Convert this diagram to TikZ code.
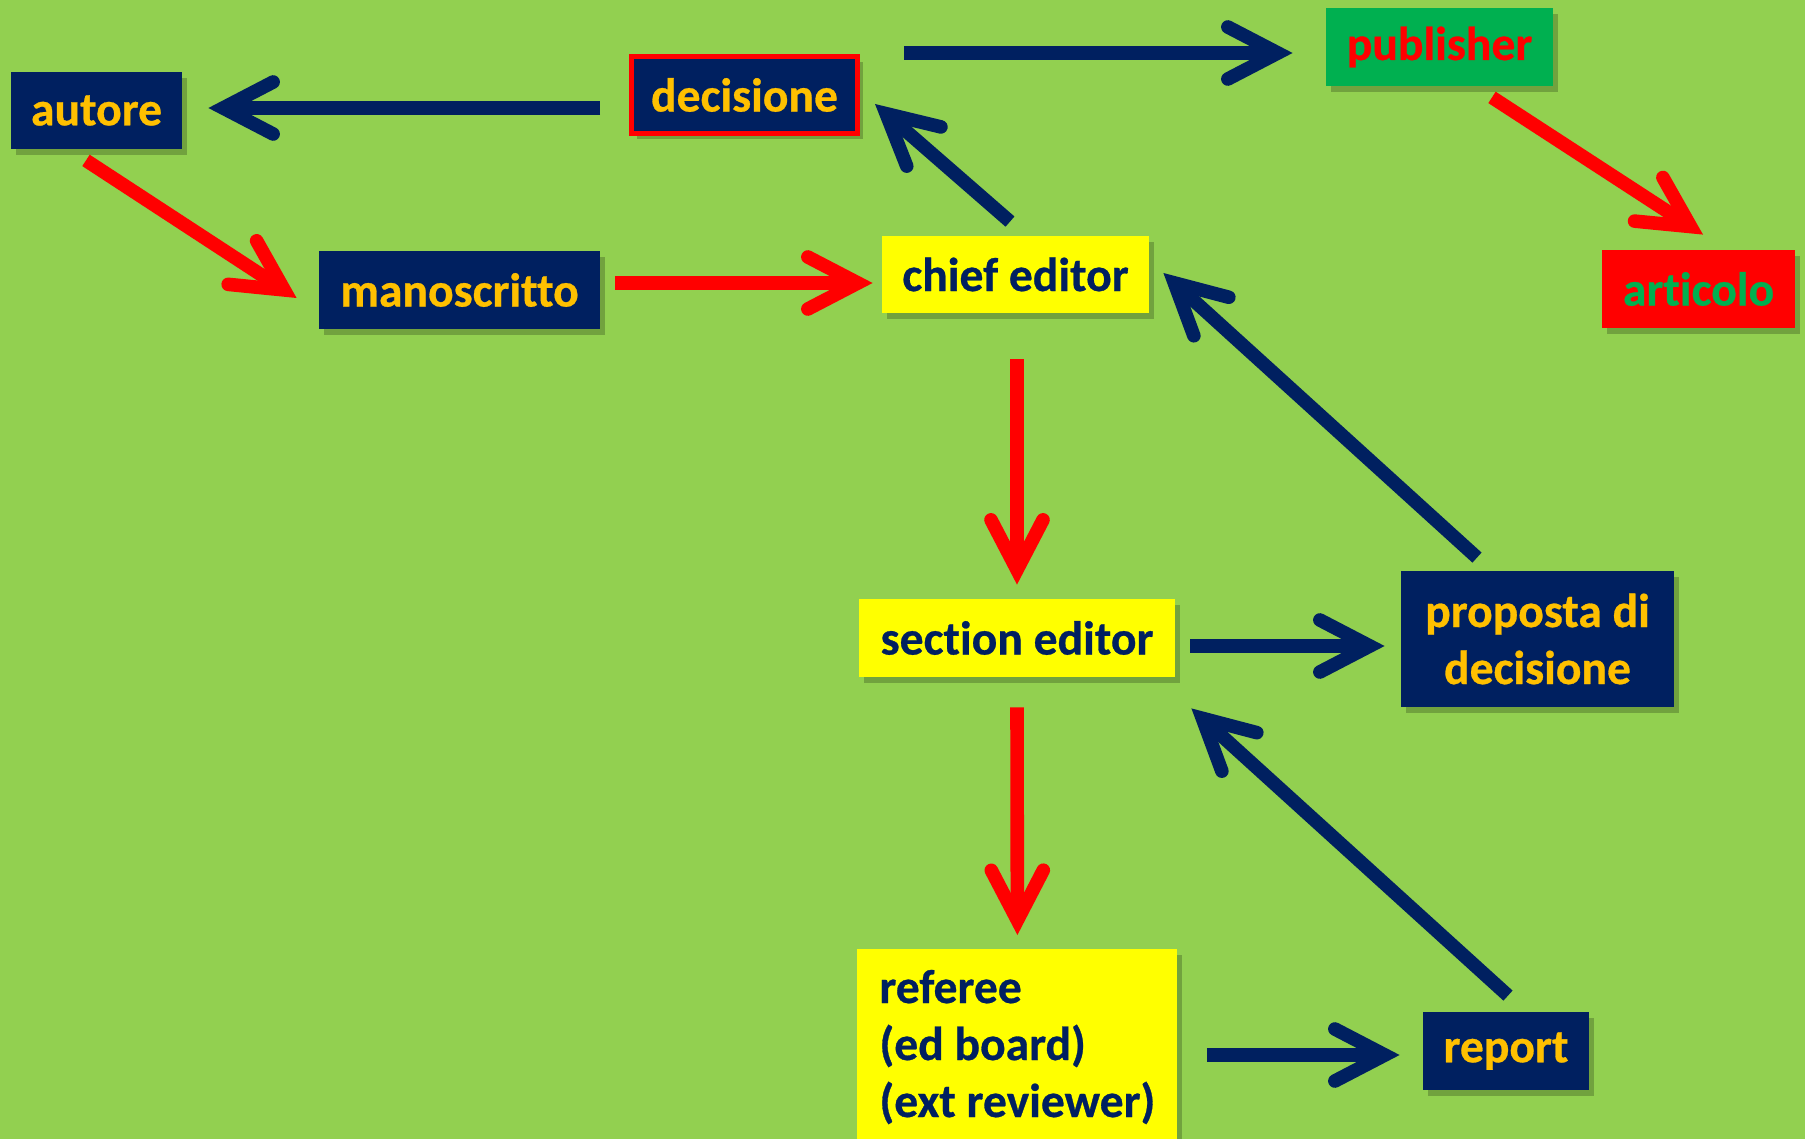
\documentclass[tikz,border=0pt]{standalone}
\usepackage{fontspec}
\setmainfont{Carlito}[Ligatures=NoCommon, BoldFeatures={FakeBold=0.6}]
\usetikzlibrary{arrows.meta,shadows,calc}
\definecolor{bggreen}{HTML}{92D050}
\definecolor{navy}{HTML}{002060}
\definecolor{gold}{HTML}{FFC000}
\definecolor{yel}{HTML}{FFFF00}
\definecolor{pubgreen}{HTML}{00B050}
\definecolor{myred}{HTML}{FF0000}
\tikzset{
  box/.style={rectangle, inner sep=0pt, minimum height=39pt,
    font=\fontsize{23.8pt}{28.5pt}\selectfont\bfseries,
    drop shadow={shadow xshift=2.5pt, shadow yshift=-3pt, opacity=0.22, fill=black}},
  navybox/.style={box, fill=navy, text=gold},
  yelbox/.style={box, fill=yel, text=navy},
  arr/.style={line width=6.8pt, -{Straight Barb[length=25pt, width=26pt, line cap=round, line join=miter]}},
  navyarr/.style={arr, draw=navy},
  redarr/.style={arr, draw=myred},
}
\begin{document}
\begin{tikzpicture}[x=0.5pt, y=-0.5pt]
\fill[bggreen] (0,0) rectangle (1805,1139);
\useasboundingbox (0,0) rectangle (1805,1139);
\begin{scope}
\clip (0,0) rectangle (1805,1139);
% nodes
\node[navybox, minimum width=85.5pt, minimum height=38.5pt] (autore) at (96.5,110.5) {autore};
\node[navybox, draw=myred, line width=2.5pt, minimum width=113pt, minimum height=38.5pt] (decisione) at (744.5,95) {decisione};
\node[navybox, minimum width=140.5pt] (manoscritto) at (459.5,290) {manoscritto};
\node[yelbox, minimum width=133.5pt, minimum height=38.5pt] (chief) at (1015.5,274.5) {chief editor};
\node[box, fill=pubgreen, text=myred, minimum width=113.5pt] (publisher) at (1439.5,47) {publisher};
\node[box, fill=myred, text=pubgreen, minimum width=96.5pt] (articolo) at (1698.5,289) {articolo};
\node[yelbox, minimum width=158pt] (section) at (1017,638) {section editor};
\node[navybox, minimum width=136.5pt, minimum height=68pt, align=center] (proposta) at (1537.5,639) {proposta di\\decisione};
\node[yelbox, anchor=north west, minimum width=160pt, minimum height=110pt] (referee) at (857,949) {};
\node[anchor=base west, inner sep=0pt, text=navy, align=left,
  font=\fontsize{23.8pt}{28.5pt}\selectfont\bfseries] (refereetext) at (879,1117)
  {referee\\(ed board)\\(ext reviewer)};
\node[navybox, minimum width=83pt] (report) at (1506,1051) {report};
% connectors
\draw[navyarr] ($(decisione.west)+(-29,13)$) -- ($(autore.east)+(26,-2.5)$);
\draw[redarr] ($(autore.south)+(-10.5,11)$) -- ($(manoscritto.west)+(-22,8)$);
\draw[redarr] ($(manoscritto.east)+(15,-7)$) -- ($(chief.west)+(-9,8.5)$);
\draw[navyarr] ($(chief.north)+(-5.5,-14)$) -- ($(decisione.east)+(15,9)$);
\draw[navyarr] ($(decisione.north east)+(44,-1)$) -- ($(publisher.west)+(-33,6)$);
\draw[redarr] ($(publisher.south)+(52.5,11)$) -- ($(articolo.north)+(4.5,-15)$);
\draw[redarr] ($(chief.south)+(1.5,46)$) -- ($(section.north)+(0,-14)$);
\draw[redarr] ($(section.south)+(0,30)$) -- ($(referee.north)+(0,-14)$);
\draw[navyarr] ($(section.east)+(15,8)$) -- ($(proposta.west)+(-16,7)$);
\draw[navyarr] ($(proposta.north)+(-60.5,-13)$) -- ($(chief.east)+(14,-1.5)$);
\draw[navyarr] ($(referee.north east)+(29,106)$) -- ($(report.west)+(-23,4)$);
\draw[navyarr] ($(report.north)+(2,-16)$) -- ($(section.south east)+(16,31)$);
\end{scope}
\end{tikzpicture}
\end{document}
